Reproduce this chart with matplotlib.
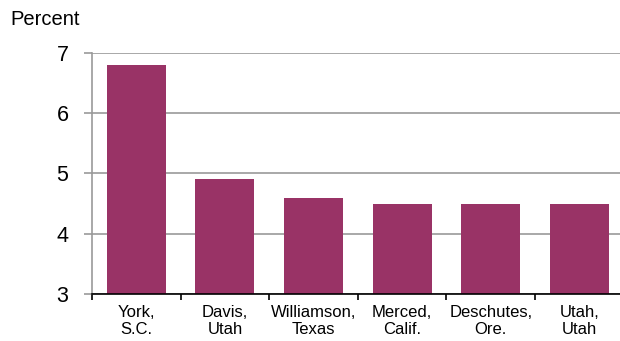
import matplotlib
matplotlib.use("Agg")
import matplotlib.pyplot as plt

categories = ["York,\nS.C.", "Davis,\nUtah", "Williamson,\nTexas", "Merced,\nCalif.", "Deschutes,\nOre.", "Utah,\nUtah"]
values = [6.8, 4.9, 4.6, 4.5, 4.5, 4.5]
yticks = [3, 4, 5, 6, 7]

plt.rcParams['font.family'] = ['Liberation Sans', 'DejaVu Sans']

fig = plt.figure(figsize=(6.2, 3.41), dpi=100)
ax = fig.add_axes([0.1484, 0.138, 0.8574, 0.7066])

x = list(range(len(categories)))
ax.bar(x, [v - 3 for v in values], bottom=3, width=0.666, color="#993366", zorder=3)
ax.set_xlim(-0.5, len(categories) - 0.5)
ax.set_ylim(3, 7)
ax.set_yticks(yticks)
ax.set_yticklabels([str(t) for t in yticks], fontsize=15.5)
ax.yaxis.grid(True, color="#999999", linewidth=1.2, zorder=0)
ax.tick_params(axis='y', length=6, color="#999999", width=1.2, pad=11)

ax.set_xticks([i - 0.5 for i in range(len(categories) + 1)])
ax.set_xticklabels([])
ax.set_xticks(x, minor=True)
ax.set_xticklabels(categories, minor=True, fontsize=12, linespacing=1.15)
ax.tick_params(axis='x', which='major', length=4, direction='out', color='black', width=1.2)
ax.tick_params(axis='x', which='minor', length=0, pad=8)

for s in ['top', 'right']:
    ax.spines[s].set_visible(False)
ax.spines['left'].set_color("#999999")
ax.spines['left'].set_linewidth(1.2)
ax.spines['bottom'].set_color("black")
ax.spines['bottom'].set_linewidth(1.2)
ax.spines['bottom'].set_zorder(4)

fig.text(0.016, 0.944, "Percent", fontsize=14.5, ha='left', va='center')

fig.savefig("out.png", dpi=100)
